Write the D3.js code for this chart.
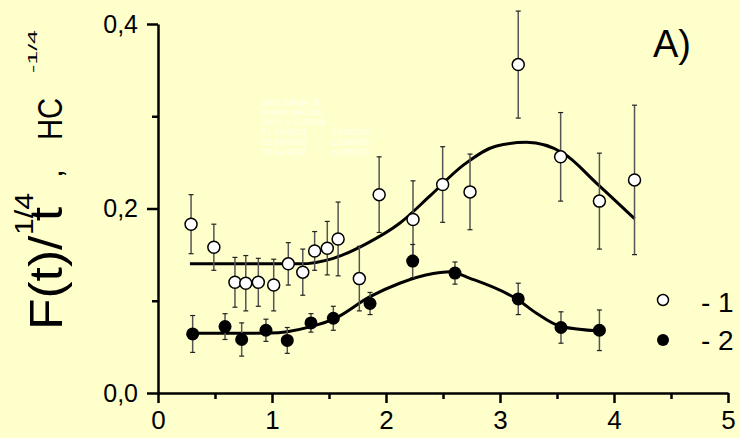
<!DOCTYPE html>
<html>
<head>
  <script src="https://cdnjs.cloudflare.com/ajax/libs/d3/7.8.5/d3.min.js"></script>
  <style>
    body { margin: 0; background: #ffffcc; }
    svg { display: block; font-family: Arial, "Liberation Sans", sans-serif; }
    .axis path, .axis line { stroke: #000; stroke-width: 2.5; }
    .axis text { font-size: 25px; fill: #000; }
    .err { stroke: #555; stroke-width: 1.5; }
    .cap { stroke: #222; stroke-width: 1.2; }
    .fit { fill: none; stroke: #000; stroke-width: 3; }
    .ghost { fill: #fffff0; font-size: 9px; }
  </style>
</head>
<body>
  <div id="chart"></div>
  <script>
    // series 1 (open circles): x, y, error
    const open1 = [
      [0.29, 0.183, 0.032], [0.49, 0.158, 0.025], [0.675, 0.120, 0.027],
      [0.77, 0.119, 0.030], [0.88, 0.120, 0.026], [1.015, 0.117, 0.028],
      [1.143, 0.140, 0.023], [1.27, 0.131, 0.025], [1.374, 0.154, 0.021],
      [1.485, 0.157, 0.029], [1.58, 0.167, 0.040], [1.766, 0.124, 0.035],
      [1.94, 0.215, 0.041], [2.237, 0.188, 0.042], [2.497, 0.226, 0.041],
      [2.737, 0.218, 0.041], [3.16, 0.356, 0.058], [3.532, 0.256, 0.048],
      [3.872, 0.208, 0.052], [4.18, 0.231, 0.081]
    ];
    // series 2 (filled circles)
    const filled2 = [
      [0.304, 0.064, 0.020], [0.588, 0.072, 0.014], [0.734, 0.058, 0.018],
      [0.947, 0.068, 0.012], [1.134, 0.057, 0.014], [1.342, 0.076, 0.010],
      [1.538, 0.081, 0.013], [1.86, 0.097, 0.012], [2.234, 0.143, 0.018],
      [2.605, 0.130, 0.012], [3.16, 0.102, 0.017], [3.535, 0.071, 0.017],
      [3.872, 0.068, 0.022]
    ];
    // fitted curves
    const fit1 = [
      [0.28, 0.140], [0.7, 0.140], [1.0, 0.140], [1.246, 0.140], [1.538, 0.146],
      [1.83, 0.162], [2.12, 0.184], [2.386, 0.2136], [2.678, 0.247], [2.97, 0.2678],
      [3.234, 0.2718], [3.556, 0.2598], [3.848, 0.2273], [4.18, 0.189]
    ];
    const fit2 = [
      [0.30, 0.0647], [0.7, 0.0647], [0.98, 0.0650], [1.134, 0.0665], [1.342, 0.0719],
      [1.54, 0.080], [1.86, 0.1044], [2.12, 0.119], [2.415, 0.1295], [2.56, 0.1315],
      [2.737, 0.1243], [3.16, 0.1008], [3.32, 0.0864], [3.535, 0.072], [3.872, 0.0672]
    ];
    const xTicks = [0, 1, 2, 3, 4, 5];
    const yTicks = [0, 0.2, 0.4];
    const yTickLabels = ["0,0", "0,2", "0,4"];
    const legendLabels = ["- 1", "- 2"];
    const fitInfo = [
      ["Data: Data4_B", ""], ["Model: user145", ""], ["Chi^2 = 0.23189", ""],
      ["P1   0.06531", "\u00b10.00243"], ["P2   0.00423", "\u00b10.00036"],
      ["P3   6.49833", "\u00b10.05633"]
    ];

    const W = 740, H = 438;
    const svg = d3.select("#chart").append("svg")
      .attr("width", W).attr("height", H);
    svg.append("rect").attr("width", W).attr("height", H).attr("fill", "#ffffcc");

    const x = d3.scaleLinear().domain([0, 5]).range([158, 728]);
    const y = d3.scaleLinear().domain([0, 0.4]).range([393, 24]);

    // faint fit-report text left in the background
    const ghost = svg.append("g");
    fitInfo.forEach((r, i) => {
      ghost.append("text").attr("class", "ghost")
        .attr("x", 261).attr("y", 105 + i * 10).text(r[0]);
      ghost.append("text").attr("class", "ghost")
        .attr("x", 332).attr("y", 105 + i * 10).text(r[1]);
    });

    // axes
    const xAxis = svg.append("g").attr("class", "axis")
      .attr("transform", `translate(0,${y(0)})`)
      .call(d3.axisBottom(x).tickValues(xTicks).tickSize(10).tickSizeOuter(0).tickPadding(8)
        .tickFormat(d3.format("d")));
    xAxis.selectAll("text").style("font-size", "26px");
    svg.append("g").attr("class", "axis")
      .attr("transform", `translate(0,${y(0)})`)
      .call(d3.axisBottom(x).tickValues(d3.range(0.5, 5, 1)).tickSize(6).tickSizeOuter(0)
        .tickFormat(""))
      .select(".domain").remove();

    svg.append("g").attr("class", "axis")
      .attr("transform", `translate(${x(0)},0)`)
      .call(d3.axisLeft(y).tickValues(yTicks).tickSize(11).tickSizeOuter(0).tickPadding(9)
        .tickFormat((d, i) => yTickLabels[i]));
    svg.append("g").attr("class", "axis")
      .attr("transform", `translate(${x(0)},0)`)
      .call(d3.axisLeft(y).tickValues([0.1, 0.3]).tickSize(6).tickSizeOuter(0).tickFormat(""))
      .select(".domain").remove();

    // y title, built from pieces (rotated)
    const yt = svg.append("g").attr("transform", "rotate(-90)");
    const pieces = [
      { t: "F(t)/ t", sy: 330, sx: 62, fs: 46, len: 123 },
      { t: "1/4", sy: 235, sx: 33, fs: 25, len: 42 },
      { t: ",", sy: 178, sx: 62, fs: 32, len: null },
      { t: "HC", sy: 140, sx: 62, fs: 35, len: 42 },
      { t: "-1/4", sy: 73, sx: 37, fs: 12, len: 43 }
    ];
    pieces.forEach(p => {
      const t = yt.append("text")
        .attr("x", -p.sy).attr("y", p.sx)
        .style("font-size", p.fs + "px").attr("fill", "#000").text(p.t);
      if (p.len) t.attr("textLength", p.len).attr("lengthAdjust", "spacingAndGlyphs");
    });

    // fitted curves
    const line = d3.line().x(d => x(d[0])).y(d => y(d[1])).curve(d3.curveMonotoneX);
    svg.append("path").datum(fit1).attr("class", "fit").attr("d", line);
    svg.append("path").datum(fit2).attr("class", "fit").attr("d", line);

    // error bars
    function errorBars(data) {
      const g = svg.append("g");
      g.selectAll("line.err").data(data).join("line").attr("class", "err")
        .attr("x1", d => x(d[0])).attr("x2", d => x(d[0]))
        .attr("y1", d => y(d[1] - d[2])).attr("y2", d => y(d[1] + d[2]));
      g.selectAll("line.capt").data(data).join("line").attr("class", "cap capt")
        .attr("x1", d => x(d[0]) - 2.5).attr("x2", d => x(d[0]) + 2.5)
        .attr("y1", d => y(d[1] + d[2])).attr("y2", d => y(d[1] + d[2]));
      g.selectAll("line.capb").data(data).join("line").attr("class", "cap capb")
        .attr("x1", d => x(d[0]) - 2.5).attr("x2", d => x(d[0]) + 2.5)
        .attr("y1", d => y(d[1] - d[2])).attr("y2", d => y(d[1] - d[2]));
    }
    errorBars(open1);
    errorBars(filled2);

    svg.append("g").selectAll("circle").data(open1).join("circle")
      .attr("cx", d => x(d[0])).attr("cy", d => y(d[1])).attr("r", 6)
      .attr("fill", "#fff").attr("stroke", "#000").attr("stroke-width", 1.5);
    svg.append("g").selectAll("circle").data(filled2).join("circle")
      .attr("cx", d => x(d[0])).attr("cy", d => y(d[1])).attr("r", 6.5)
      .attr("fill", "#000");

    // panel label
    svg.append("text").attr("x", 653).attr("y", 57)
      .style("font-size", "38px").attr("fill", "#000").text("A)");

    // legend
    const lg = svg.append("g");
    lg.append("circle").attr("cx", 663).attr("cy", 300).attr("r", 5.5)
      .attr("fill", "#fff").attr("stroke", "#000").attr("stroke-width", 1.5);
    lg.append("circle").attr("cx", 663).attr("cy", 340).attr("r", 6)
      .attr("fill", "#000");
    legendLabels.forEach((l, i) => {
      lg.append("text").attr("x", 701).attr("y", 312 + i * 38)
        .style("font-size", "28px").attr("fill", "#000").text(l);
    });
  </script>
</body>
</html>
